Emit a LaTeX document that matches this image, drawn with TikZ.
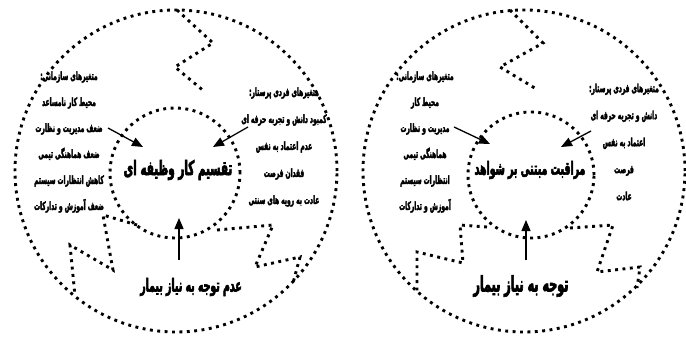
\documentclass[tikz,border=0pt]{standalone}
\usepackage{fontspec}
\newfontfamily\persian[Script=Arabic,FakeStretch=0.52,BoldFeatures={FakeBold=3}]{DejaVu Sans}
\TeXXeTstate=1
\usetikzlibrary{arrows.meta, positioning}
\newcommand{\rl}[1]{\beginR #1\endR}

\begin{document}
\begin{tikzpicture}[
    x=1pt, y=-1pt,
    dotline/.style={line width=2.9pt, dash pattern=on 2.9pt off 4.5pt},
    ring/.style={circle, draw, dotline, inner sep=0pt},
    small/.style={font=\persian\bfseries\fontsize{11.4}{26}\selectfont, align=center, inner sep=0pt},
    core/.style={font=\persian\bfseries\fontsize{20}{22}\selectfont, inner sep=0pt},
    arrow/.style={line width=1.3pt, -{Triangle[length=11pt,width=9pt]}}
]
    \useasboundingbox (0,0) rectangle (686,337);

    % left diagram
    \node (leftOuter) [ring, minimum size=322pt] at (176,171) {};
    \node (leftInner) [ring, minimum size=130pt] at (175,173) {};
    \node (leftCore) [core] at (178,170) {\rl{تقسیم کار وظیفه ای}};
    \node (leftOrg) [small] at (69,142) {\rl{متغیرهای سازمانی:}\\ \rl{محیط کار نامساعد}\\ \rl{ضعف مدیریت و نظارت}\\ \rl{ضعف هماهنگی تیمی}\\ \rl{کاهش انتظارات سیستم}\\ \rl{ضعف آموزش و تدارکات}};
    \node (leftNurse) [small, font=\persian\bfseries\fontsize{11.4}{27}\selectfont] at (284,147) {\rl{متغیرهای فردی پرستار:}\\ \rl{کمبود دانش و تجربه حرفه ای}\\ \rl{عدم اعتماد به نفس}\\ \rl{فقدان فرصت}\\ \rl{عادت به رویه های سنتی}};
    \node (leftNeed) [core, font=\persian\bfseries\fontsize{18}{20}\selectfont] at (191,287) {\rl{عدم توجه به نیاز بیمار}};

    \coordinate (lOrgTail) at (108,128);
    \coordinate (lOrgTip) at (143,147);
    \coordinate (lNurseTail) at (248,127);
    \coordinate (lNurseTip) at (213,147);
    \coordinate (lNeedTail) at (179,260);
    \coordinate (lNeedTip) at (179,218);
    \draw [arrow] (lOrgTail) -- (lOrgTip);
    \draw [arrow] (lNurseTail) -- (lNurseTip);
    \draw [arrow] (lNeedTail) -- (lNeedTip);

    \draw [dotline] (177,10) -- (213,43) -- (175,67) -- (205,92);
    \draw [dotline] (137,225) -- (103,215) -- (113,270) -- (70,245) -- (75,296);
    \draw [dotline] (217,230) -- (273,225) -- (255,267) -- (300,257) -- (293,283);

    % right diagram
    \node (rightOuter) [ring, minimum size=322pt] at (524,171) {};
    \node (rightInner) [ring, minimum size=126pt] at (531,175) {};
    \node (rightCore) [core, font=\persian\bfseries\fontsize{18}{20}\selectfont] at (530,170) {\rl{مراقبت مبتنی بر شواهد}};
    \node (rightOrg) [small] at (425,142) {\rl{متغیرهای سازمانی:}\\ \rl{محیط کار}\\ \rl{مدیریت و نظارت}\\ \rl{هماهنگی تیمی}\\ \rl{انتظارات سیستم}\\ \rl{آموزش و تدارکات}};
    \node (rightNurse) [small, font=\persian\bfseries\fontsize{11.4}{27}\selectfont] at (624,142) {\rl{متغیرهای فردی پرستار:}\\ \rl{دانش و تجربه حرفه ای}\\ \rl{اعتماد به نفس}\\ \rl{فرصت}\\ \rl{عادت}};
    \node (rightNeed) [core, font=\persian\bfseries\fontsize{21.5}{23}\selectfont] at (521,286) {\rl{توجه به نیاز بیمار}};

    \coordinate (rOrgTail) at (454,127);
    \coordinate (rOrgTip) at (490,144);
    \coordinate (rNurseTail) at (591,131);
    \coordinate (rNurseTip) at (561,147);
    \coordinate (rNeedTail) at (526,260);
    \coordinate (rNeedTip) at (526,220);
    \draw [arrow] (rOrgTail) -- (rOrgTip);
    \draw [arrow] (rNurseTail) -- (rNurseTip);
    \draw [arrow] (rNeedTail) -- (rNeedTip);

    \draw [dotline] (510,10) -- (543,43) -- (500,67) -- (538,90);
    \draw [dotline] (487,227) -- (460,225) -- (463,263) -- (417,252) -- (417,293);
    \draw [dotline] (570,228) -- (613,225) -- (597,272) -- (640,267) -- (637,288);

\end{tikzpicture}
\end{document}
